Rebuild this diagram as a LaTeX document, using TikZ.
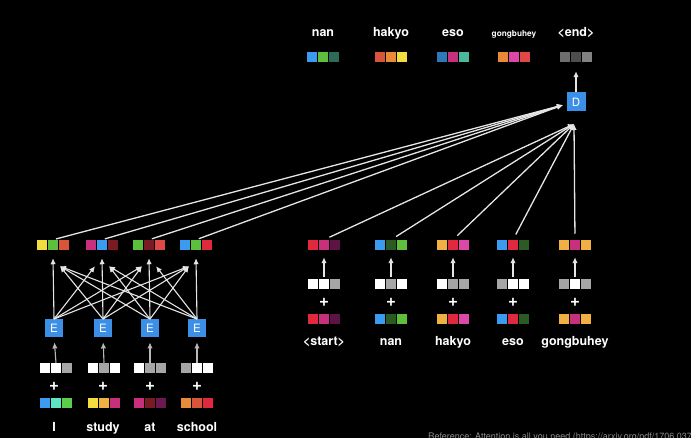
\documentclass[tikz,border=0pt]{standalone}
\usepackage{fontspec}
\setmainfont{TeX Gyre Heros}
\usetikzlibrary{arrows.meta,positioning,calc}

\definecolor{eblue}{HTML}{3C8FE6}
\definecolor{cblue}{HTML}{3A9BF0}
\definecolor{cmblue}{HTML}{2C78B8}
\definecolor{cgreen}{HTML}{5CC03C}
\definecolor{cdgreen}{HTML}{2B5A22}
\definecolor{cteal}{HTML}{2C6A5A}
\definecolor{cseag}{HTML}{4AB89C}
\definecolor{caqua}{HTML}{5EE6C4}
\definecolor{clime}{HTML}{5AD04A}
\definecolor{cyellow}{HTML}{F2DC40}
\definecolor{camber}{HTML}{F0B042}
\definecolor{corange}{HTML}{E98A38}
\definecolor{credorg}{HTML}{D8553A}
\definecolor{cred}{HTML}{E0283E}
\definecolor{clred}{HTML}{E04848}
\definecolor{cmagenta}{HTML}{C8307E}
\definecolor{cpink}{HTML}{DC48A8}
\definecolor{cdred}{HTML}{7A1A22}
\definecolor{cpurple}{HTML}{5C1444}
\definecolor{cplum}{HTML}{6A1A50}
\definecolor{cgrayA}{HTML}{6E6E6E}
\definecolor{cgrayB}{HTML}{4E4E4E}
\definecolor{cgrayC}{HTML}{828282}
\definecolor{pgray}{HTML}{A6A6A6}

% three coloured cells of one vector
\newcommand{\cells}[3]{{\color{#1}\rule{10pt}{10.5pt}}\hspace{0.75pt}{\color{#2}\rule{10pt}{10.5pt}}\hspace{0.75pt}{\color{#3}\rule{10pt}{10.5pt}}}

\begin{document}
\begin{tikzpicture}[x=1pt, y=-1pt,
    font=\fontsize{12.5}{14}\selectfont\bfseries,
    word/.style={text=white, anchor=base, inner sep=0pt},
    vec/.style={inner sep=0pt, outer sep=0pt},
    plus/.style={text=white, inner sep=0pt, font=\fontsize{17}{18}\selectfont\bfseries},
    block/.style={fill=eblue, text=white, minimum size=17.5pt, inner sep=0pt, font=\fontsize{11.5}{12}\selectfont},
    arrow/.style={-{Latex[length=6pt,width=5.5pt]}, line width=1.1pt, draw=white!90!black},
    stem/.style={arrow, draw=white!72!black},
    link/.style={arrow, line width=1.3pt}
]
\useasboundingbox (0,0) rectangle (691,438);
\clip (0,0) rectangle (691,438);
\fill[black] (0,0) rectangle (691,438);

% encoder
\node[word] (w1) at (54,431) {I};
\node[word] (w2) at (103,431) {study};
\node[word] (w3) at (150,431) {at};
\node[word] (w4) at (197,431) {school};
\node[vec] (in1) at (56,403) {\cells{cblue}{caqua}{clime}};
\node[vec] (in2) at (104,403) {\cells{cyellow}{camber}{cmagenta}};
\node[vec] (in3) at (150,403) {\cells{cmagenta}{cdred}{cplum}};
\node[vec] (in4) at (197,403) {\cells{corange}{credorg}{cred}};
\node[plus] (p1) at (54,386) {+};
\node[plus] (p2) at (103,386) {+};
\node[plus] (p3) at (150,386) {+};
\node[plus] (p4) at (197,386) {+};
\node[vec] (pos1) at (56,368) {\cells{white}{white}{pgray}};
\node[vec] (pos2) at (104,368) {\cells{white}{pgray}{white}};
\node[vec] (pos3) at (150,368) {\cells{white}{pgray}{pgray}};
\node[vec] (pos4) at (197,368) {\cells{pgray}{white}{white}};
\node[block] (e1) at (54,328) {E};
\node[block] (e2) at (103,328) {E};
\node[block] (e3) at (150,328) {E};
\node[block] (e4) at (197,328) {E};
\node[vec] (out1) at (53,245) {\cells{cyellow}{cgreen}{credorg}};
\node[vec] (out2) at (102,245) {\cells{cmagenta}{cblue}{cdred}};
\node[vec] (out3) at (149,245) {\cells{cgreen}{cdred}{clred}};
\node[vec] (out4) at (196,245) {\cells{cblue}{cgreen}{cred}};

\foreach \i in {1,...,4}
  \draw[stem, shorten >=5.5pt] (pos\i.north) -- (e\i.south);
\foreach \i in {1,...,4}{
  \foreach \j in {1,...,4}{
    \pgfmathsetmacro\dx{7*sign(\i-\j)}
    \pgfmathsetmacro\dy{ifthenelse(\i==\j,8,16)}
    \draw[arrow] (e\i.north) -- ($(out\j.south)+(\dx,\dy)$);
  }
}

% decoder inputs
\node[word] (v1) at (324,346) {<start>};
\node[word] (v2) at (391,346) {nan};
\node[word] (v3) at (453,346) {hakyo};
\node[word] (v4) at (513,346) {eso};
\node[word] (v5) at (575,346) {gongbuhey};
\node[vec] (din1) at (324,319) {\cells{cred}{cmagenta}{cpurple}};
\node[vec] (din2) at (391,319) {\cells{cblue}{cdgreen}{cgreen}};
\node[vec] (din3) at (453,319) {\cells{camber}{cred}{cpink}};
\node[vec] (din4) at (513,319) {\cells{cblue}{cred}{cdgreen}};
\node[vec] (din5) at (575,319) {\cells{camber}{cmagenta}{camber}};
\node[plus] (q1) at (324,302) {+};
\node[plus] (q2) at (391,302) {+};
\node[plus] (q3) at (453,302) {+};
\node[plus] (q4) at (513,302) {+};
\node[plus] (q5) at (575,302) {+};
\node[vec] (dpos1) at (324,284) {\cells{white}{white}{pgray}};
\node[vec] (dpos2) at (391,284) {\cells{white}{pgray}{white}};
\node[vec] (dpos3) at (453,284) {\cells{white}{pgray}{pgray}};
\node[vec] (dpos4) at (513,284) {\cells{pgray}{white}{white}};
\node[vec] (dpos5) at (575,284) {\cells{pgray}{white}{pgray}};
\node[vec] (dout1) at (324,245) {\cells{cred}{cmagenta}{cpurple}};
\node[vec] (dout2) at (391,245) {\cells{cblue}{cdgreen}{cgreen}};
\node[vec] (dout3) at (453,245) {\cells{camber}{cred}{cpink}};
\node[vec] (dout4) at (513,245) {\cells{cblue}{cred}{cdgreen}};
\node[vec] (dout5) at (575,245) {\cells{camber}{cmagenta}{camber}};

\foreach \i in {1,...,5}
  \draw[arrow, shorten <=2pt, shorten >=7pt] (dpos\i.north) -- (dout\i.south);

% decoder and outputs
\node[block, minimum size=19pt] (D) at (576,102) {D};
\coordinate (dl) at (563,105);
\coordinate (dj) at (574,124);
\node[word] (t1) at (323,37) {nan};
\node[word] (t2) at (391,37) {hakyo};
\node[word] (t3) at (453,37) {eso};
\node[word, font=\fontsize{8.3}{10}\selectfont\bfseries] (t4) at (514,37) {gongbuhey};
\node[word] (t5) at (576,37) {<end>};
\node[vec] (r1) at (323,57) {\cells{cblue}{cgreen}{cteal}};
\node[vec] (r2) at (391,57) {\cells{credorg}{corange}{cyellow}};
\node[vec] (r3) at (453,57) {\cells{cmblue}{cmagenta}{cseag}};
\node[vec] (r4) at (514,57) {\cells{corange}{cpink}{clred}};
\node[vec] (r5) at (576,57) {\cells{cgrayA}{cgrayB}{cgrayC}};

\foreach \i in {1,...,4}
  \draw[link, shorten <=3pt] (out\i.north) -- (dl);
\foreach \i in {1,...,5}
  \draw[link, shorten <=6pt] (dout\i.north) -- (dj);
\draw[arrow, shorten >=9pt] (D.north) -- (r5.south);

\node[anchor=north west, inner sep=0pt, text=white!55!black, font=\fontsize{9}{10}\selectfont\mdseries] (ref) at (428,433) {Reference: Attention is all you need (https://arxiv.org/pdf/1706.03762)};
\end{tikzpicture}
\end{document}
